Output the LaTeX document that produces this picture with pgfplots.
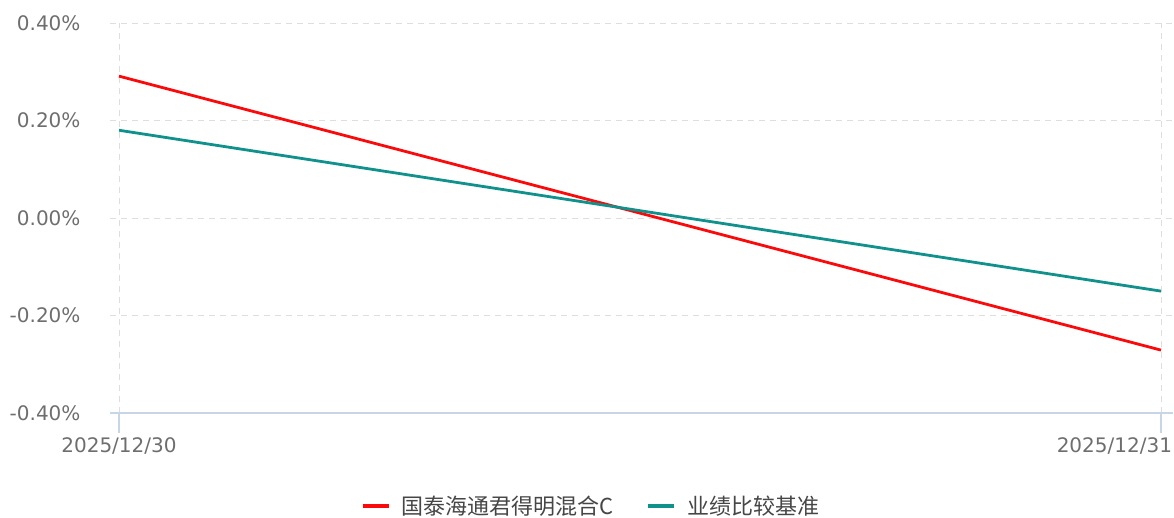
\documentclass[border=0pt]{standalone}
\usepackage{pgfplots}
\pgfplotsset{compat=1.18}
\usepackage{fontspec}
\setmainfont{DejaVu Sans}
\newfontfamily\cjk{Noto Sans CJK SC}
\definecolor{redline}{RGB}{250,10,10}
\definecolor{tealline}{RGB}{16,145,140}
\definecolor{gridgray}{RGB}{222,222,222}
\definecolor{axisblue}{RGB}{200,212,232}
\definecolor{ticktext}{RGB}{110,110,110}
\definecolor{legtext}{RGB}{70,70,70}
\begin{document}
\begin{tikzpicture}
\path[use as bounding box] (0,0) rectangle (1174pt,517pt);
\begin{axis}[
  at={(110pt,104pt)}, anchor=south west,
  scale only axis, width=1063pt, height=390pt,
  xmin=-0.00864, xmax=1.0115,
  ymin=-0.4, ymax=0.4,
  xtick={0,1},
  xticklabels={2025/12/30,\hspace{22pt}\makebox[0pt][r]{2025/12/31}},
  ytick={-0.4,-0.2,0,0.2,0.4},
  yticklabels={-0.40\%,-0.20\%,0.00\%,0.20\%,0.40\%},
  axis x line=bottom, axis y line=left,
  x axis line style={draw=axisblue, line width=1.2pt, -},
  y axis line style={draw=none},
  ytick style={draw=none},
  xtick style={draw=axisblue, line width=1.2pt},
  major tick length=20pt, tick align=outside,
  xmajorgrids, ymajorgrids,
  grid style={draw=gridgray, dash pattern=on 6pt off 5pt, line width=1pt},
  tick label style={font=\fontsize{20}{22}\selectfont, text=ticktext},
  /pgf/number format/assume math mode=true,
  yticklabel style={xshift=-6pt},
  xticklabel style={yshift=-1pt},
  legend style={at={(0.4525,-0.2385)}, anchor=center, draw=none, fill=none,
    font=\cjk\fontsize{22}{24}\selectfont, text=legtext,
    /tikz/every even column/.append style={column sep=30pt}},
  legend columns=2,
  legend cell align=left,
  legend image code/.code={\draw[#1, line width=3.5pt] (0pt,0pt) -- (26pt,0pt); \path (36pt,0pt);},
  clip=false,
]
\addplot[redline, line width=2.8pt] coordinates {(0,0.291) (1,-0.271)};
\addlegendentry{国泰海通君得明混合C}
\addplot[tealline, line width=2.8pt] coordinates {(0,0.180) (1,-0.150)};
\addlegendentry{业绩比较基准}
\end{axis}
\end{tikzpicture}
\end{document}
